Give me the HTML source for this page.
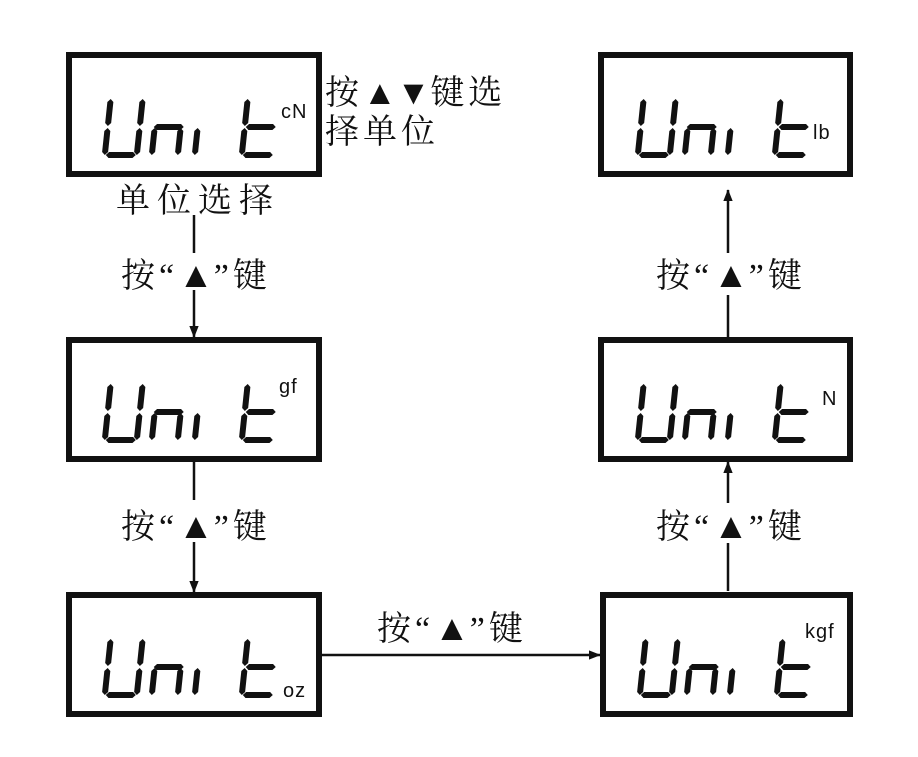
<!DOCTYPE html>
<html><head><meta charset="utf-8"><style>
html,body{margin:0;padding:0;background:#fff;}
svg{display:block}
</style></head><body>
<svg width="918" height="757" viewBox="0 0 918 757" xmlns="http://www.w3.org/2000/svg">
<defs>
<polygon id="v" points="3,0 6,3 6,24 3,27 0,24 0,3"/>
<polygon id="h" points="0,3 3,0 27,0 30,3 27,6 3,6"/>
<g id="U"><use href="#v" x="0" y="3"/><use href="#v" x="0" y="32"/><use href="#v" x="32" y="3"/><use href="#v" x="32" y="32"/><use href="#h" x="4" y="56"/></g>
<g id="n"><use href="#v" x="0" y="32"/><use href="#v" x="26" y="32"/><use href="#h" x="2" y="28"/></g>
<g id="i"><use href="#v" x="0" y="32"/></g>
<g id="t"><use href="#v" x="0" y="3"/><use href="#v" x="0" y="32"/><use href="#h" x="4" y="28"/><use href="#h" x="4" y="56"/></g>
<g id="word"><use href="#U" x="0"/><use href="#n" x="47"/><use href="#i" x="90"/><use href="#t" x="137"/></g>
<marker id="ar" markerWidth="12" markerHeight="12" refX="13" refY="5.5" orient="auto" markerUnits="userSpaceOnUse" viewBox="0 0 14 11"><path d="M0,0 L14,5.5 L0,11 Z" fill="#111"/></marker>
</defs>
<g fill="none" stroke="#111" stroke-width="6">
<rect x="69" y="55" width="250" height="119"/>
<rect x="69" y="340" width="250" height="119"/>
<rect x="69" y="595" width="250" height="119"/>
<rect x="601" y="55" width="249" height="119"/>
<rect x="601" y="340" width="249" height="119"/>
<rect x="603" y="595" width="247" height="119"/>
</g>
<g fill="#111">
<g transform="translate(108,96) skewX(-6)"><use href="#word"/></g>
<g transform="translate(108,381) skewX(-6)"><use href="#word"/></g>
<g transform="translate(108,636) skewX(-6)"><use href="#word"/></g>
<g transform="translate(641,96) skewX(-6)"><use href="#word"/></g>
<g transform="translate(641,381) skewX(-6)"><use href="#word"/></g>
<g transform="translate(643,636) skewX(-6)"><use href="#word"/></g>
</g>
<g font-family="Liberation Sans, sans-serif" font-size="20" fill="#111" letter-spacing="1">
<text x="281" y="118">cN</text>
<text x="279" y="393">gf</text>
<text x="283" y="697">oz</text>
<text x="813" y="139">lb</text>
<text x="822" y="405">N</text>
<text x="805" y="638">kgf</text>
</g>
<g font-family="Liberation Serif, Noto Serif CJK SC, serif" font-size="34" fill="#111" letter-spacing="4">
<text x="325" y="104">按<tspan font-size="34" letter-spacing="0">▲▼</tspan>键选</text>
<text x="325" y="143">择单位</text>
<text x="116" y="212" letter-spacing="7">单位选择</text>
<text x="121" y="287">按“<tspan font-size="36" letter-spacing="0">▲</tspan>”键</text>
<text x="121" y="538">按“<tspan font-size="36" letter-spacing="0">▲</tspan>”键</text>
<text x="377" y="640">按“<tspan font-size="36" letter-spacing="0">▲</tspan>”键</text>
<text x="656" y="287">按“<tspan font-size="36" letter-spacing="0">▲</tspan>”键</text>
<text x="656" y="538">按“<tspan font-size="36" letter-spacing="0">▲</tspan>”键</text>
</g>
<g stroke="#111" stroke-width="2.5" fill="none">
<line x1="194" y1="215" x2="194" y2="253"/>
<line x1="194" y1="290" x2="194" y2="337" marker-end="url(#ar)"/>
<line x1="194" y1="461" x2="194" y2="500"/>
<line x1="194" y1="542" x2="194" y2="592" marker-end="url(#ar)"/>
<line x1="322" y1="655" x2="600" y2="655" marker-end="url(#ar)"/>
<line x1="728" y1="591" x2="728" y2="543"/>
<line x1="728" y1="503" x2="728" y2="462" marker-end="url(#ar)"/>
<line x1="728" y1="337" x2="728" y2="295"/>
<line x1="728" y1="253" x2="728" y2="190" marker-end="url(#ar)"/>
</g>
</svg>
</body></html>
